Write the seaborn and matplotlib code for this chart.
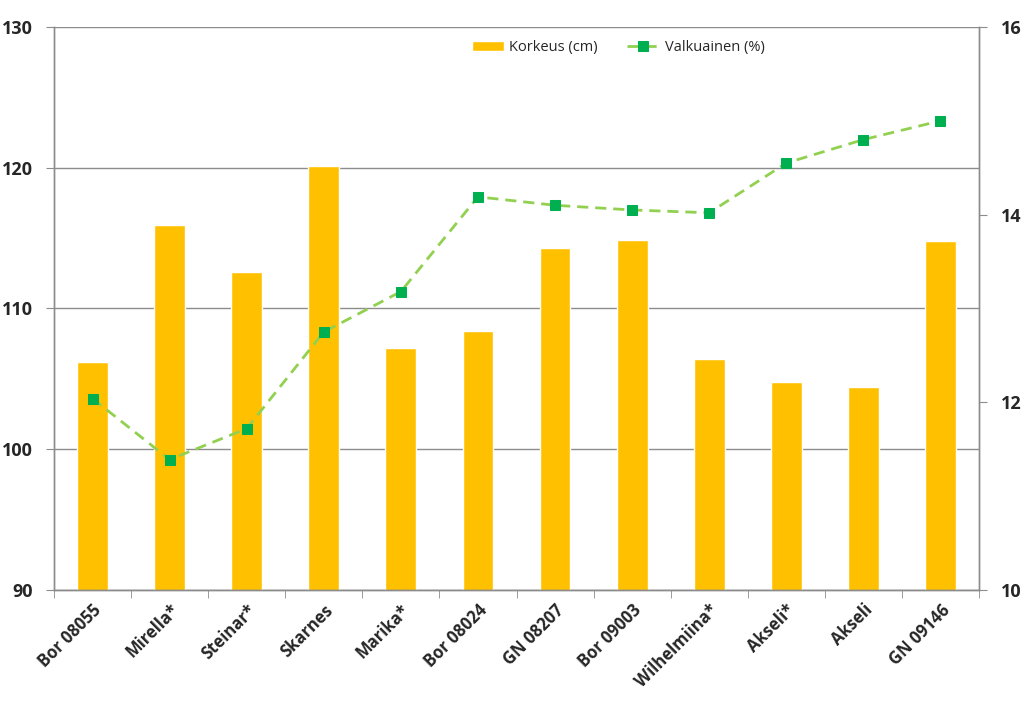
import numpy as np
import pandas as pd
import matplotlib
matplotlib.use("Agg")
import matplotlib.pyplot as plt
import seaborn as sns
from matplotlib.ticker import FixedLocator

# ------------------------------------------------------------------
# Data
# ------------------------------------------------------------------
lajikkeet = ["Bor 08055", "Mirella*", "Steinar*", "Skarnes", "Marika*", "Bor 08024",
             "GN 08207", "Bor 09003", "Wilhelmiina*", "Akseli*", "Akseli", "GN 09146"]
korkeus = [106.2, 115.9, 112.6, 120.1, 107.2, 108.4, 114.3, 114.9, 106.4, 104.8, 104.4, 114.8]
valkuainen = [12.04, 11.39, 11.72, 12.75, 13.18, 14.19, 14.10, 14.05, 14.02, 14.55, 14.80, 15.00]

df = pd.DataFrame({"lajike": lajikkeet, "korkeus": korkeus, "valkuainen": valkuainen})
df["pos"] = np.arange(len(df))

# ------------------------------------------------------------------
# Plot
# ------------------------------------------------------------------
sns.set_style("white")
plt.rcParams["font.family"] = ["Open Sans", "DejaVu Sans"]

fig = plt.figure(figsize=(10.24, 7.09), dpi=100)
ax = fig.add_axes([54 / 1024, 1 - 590 / 709, (979 - 54) / 1024, (590 - 27) / 709])

sns.barplot(data=df, x="lajike", y="korkeus", color="#FFC000", width=0.4,
            saturation=1, ax=ax, label="Korkeus (cm)", zorder=2)
ax.set_ylim(90, 130)
ax.set_xlim(-0.5, len(df) - 0.5)
ax.set_yticks([90, 100, 110, 120, 130])
ax.yaxis.grid(True, color="#8c8c8c", linewidth=1)
ax.set_axisbelow(True)
ax.set_xlabel("")
ax.set_ylabel("")

ax2 = ax.twinx()
sns.lineplot(data=df, x="pos", y="valkuainen", ax=ax2, color="#92D050",
             linestyle=(0, (4, 2.5)), linewidth=2, marker="s", markersize=7,
             markerfacecolor="#00B050", markeredgecolor="#00B050",
             label="Valkuainen (%)", zorder=3)
ax2.set_ylim(10, 16)
ax2.set_yticks([10, 12, 14, 16])
ax2.set_ylabel("")
ax2.set_xlim(-0.5, len(df) - 0.5)

for a in (ax, ax2):
    for s in a.spines.values():
        s.set_color("#8c8c8c")
        s.set_linewidth(1)
    a.spines["top"].set_visible(False)

ax.tick_params(axis="y", which="major", direction="out", length=6, color="#8c8c8c",
               labelsize=13, pad=9, left=True)
ax2.tick_params(axis="y", which="major", direction="out", length=6, color="#8c8c8c",
                labelsize=13, pad=10, right=True)
for lab in ax.get_yticklabels() + ax2.get_yticklabels():
    lab.set_fontweight("bold")

# x ticks between categories, labels centred under bars
ax.xaxis.set_minor_locator(FixedLocator(np.arange(-0.5, len(df), 1.0)))
ax.tick_params(axis="x", which="minor", direction="out", length=6, color="#8c8c8c", bottom=True)
ax.tick_params(axis="x", which="major", length=0, pad=8)
ax.set_xticks(df["pos"])
ax.set_xticklabels(lajikkeet, rotation=45, ha="right", rotation_mode="anchor",
                   fontsize=12, fontweight="bold")

# legend
if ax.get_legend():
    ax.get_legend().remove()
h1, l1 = ax.get_legend_handles_labels()
h2, l2 = ax2.get_legend_handles_labels()
ax2.legend(h1 + h2, l1 + l2, loc="upper center", bbox_to_anchor=(0.61, 1.0), ncol=2,
           frameon=False, fontsize=10.5, handlelength=2.2, columnspacing=2.0,
           handletextpad=0.4)

plt.savefig("out.png", dpi=100)
plt.close()
